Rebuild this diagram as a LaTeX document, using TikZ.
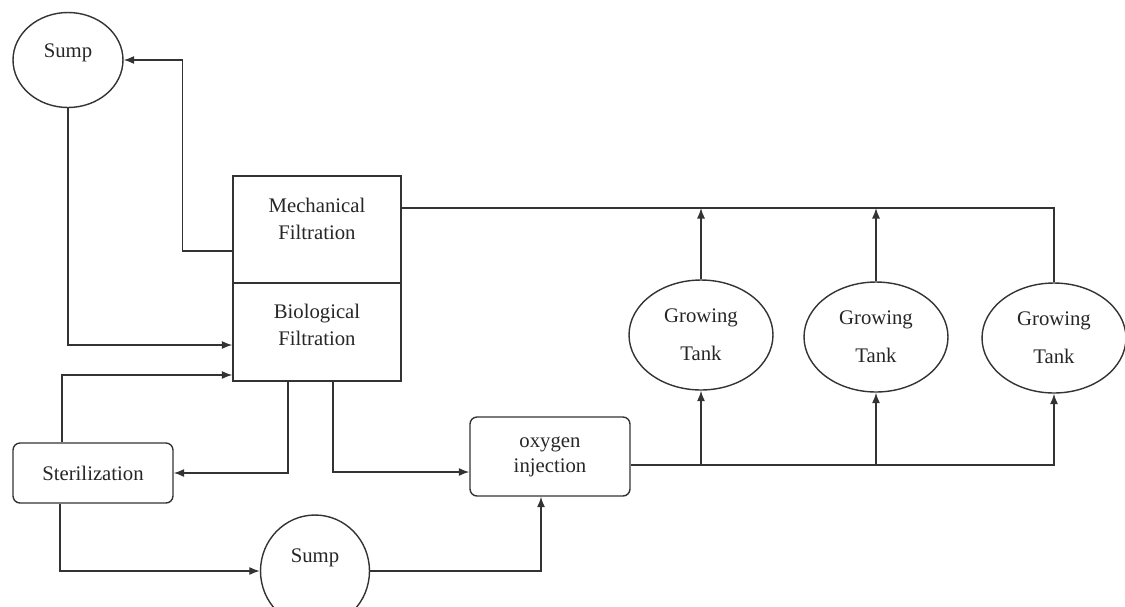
\documentclass[tikz,border=0pt]{standalone}
\usepackage{fontspec}
\setmainfont{Liberation Serif}
\usetikzlibrary{shapes.geometric,arrows.meta}

\begin{document}
\begin{tikzpicture}[x=0.02cm, y=-0.02cm,
  every node/.style={text=black!85, font=\fontsize{11.8}{15.3}\selectfont, align=center},
  filterbox/.style={draw=black!80, line width=0.8pt, minimum width=3.36cm, inner sep=0pt},
  roundbox/.style={draw=black!80, line width=0.8pt, rounded corners=4pt, minimum width=3.2cm, inner sep=0pt},
  sump/.style={shape=ellipse, draw=black!80, line width=0.8pt, inner sep=0pt},
  tank/.style={shape=ellipse, draw=black!80, line width=0.8pt, minimum width=2.88cm, minimum height=2.2cm, inner sep=0pt, font=\fontsize{11.8}{21.5}\selectfont},
  arr/.style={draw=black!80, line width=0.8pt, -{Latex[length=6pt,width=4.6pt]}},
  pipe/.style={draw=black!80, line width=0.8pt}]
\useasboundingbox (0,0) rectangle (1125,606);

\node[sump, minimum width=2.2cm, minimum height=1.9cm, text depth=11pt](sumpA) at (68,60) {Sump};
\node[filterbox, minimum height=2.14cm, text depth=12.5pt](mech) at (317,229.5) {Mechanical\\Filtration};
\node[filterbox, minimum height=1.96cm, text depth=8.5pt](bio) at (317,332) {Biological\\Filtration};
\node[roundbox, minimum height=1.2cm](steril) at (93,473) {Sterilization};
\node[roundbox, minimum height=1.58cm, font=\fontsize{11.8}{14.2}\selectfont](oxy) at (550,456.5) {oxygen\\injection};
\node[sump, minimum width=2.18cm, minimum height=2.24cm, text depth=17pt](sumpB) at (315,571) {Sump};
\node[tank](tank1) at (701,335) {Growing\\Tank};
\node[tank](tank2) at (876,337) {Growing\\Tank};
\node[tank](tank3) at (1054,338) {Growing\\Tank};

% filtration loop
\draw[arr] (mech.west |- 0,251) -| ([xshift=1.18cm]sumpA.east) -- (sumpA.east);
\draw[arr] (sumpA.south) |- (bio.west |- 0,345);
\draw[arr] (steril.north -| 62,0) |- (bio.west |- 0,375);
\draw[arr] (bio.south -| 288,0) |- (steril.east);
\draw[arr] (bio.south -| 333,0) |- (oxy.west |- 0,472);
\draw[arr] (steril.south -| 60,0) |- (sumpB.west);
\draw[arr] (sumpB.east) -| (oxy.south -| 541,0);

% tanks
\draw[arr] (oxy.east |- 0,465) -| (tank3.south);
\draw[pipe] (mech.east |- 0,208) -| (tank3.north);
\foreach \t in {tank1,tank2}{
  \draw[arr] (\t.south |- 0,465) -- (\t.south);
  \draw[arr] (\t.north) -- (\t.north |- 0,208);
}
\end{tikzpicture}
\end{document}
